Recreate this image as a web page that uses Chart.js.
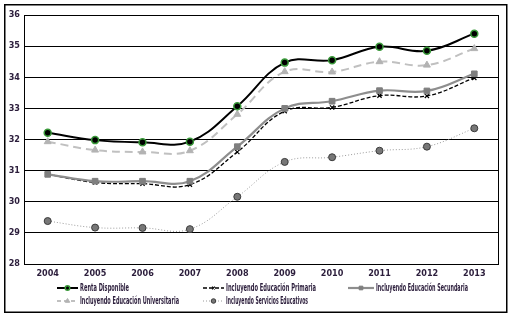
<!DOCTYPE html>
<html><head><meta charset="utf-8">
<script src="https://cdn.jsdelivr.net/npm/chart.js@4/dist/chart.umd.min.js"></script>
<style>html,body{margin:0;padding:0;background:#fff;}canvas{display:block;}</style>
</head><body>
<canvas id="c" width="512" height="318"></canvas>
<script>
const years = ['2004','2005','2006','2007','2008','2009','2010','2011','2012','2013'];
const rentaDisponible = [32.22,31.98,31.91,31.93,33.07,34.47,34.55,34.98,34.85,35.40];
const educPrimaria = [30.88,30.62,30.58,30.55,31.60,32.91,33.03,33.41,33.40,33.98];
const educSecundaria = [30.88,30.66,30.66,30.66,31.77,33.00,33.23,33.57,33.56,34.11];
const educUniversitaria = [31.93,31.66,31.60,31.64,32.81,34.18,34.17,34.50,34.39,34.92];
const serviciosEducativos = [29.38,29.17,29.16,29.12,30.16,31.28,31.43,31.64,31.77,32.36];
const yMin = 28, yMax = 36, yStep = 1;
const seriesNames = ['Renta Disponible','Incluyendo Educación Primaria','Incluyendo Educación Secundaria','Incluyendo Educación Universitaria','Incluyendo Servicios Educativos'];

const FONT = '"Liberation Sans Narrow","DejaVu Sans Condensed","Arial Narrow",sans-serif';
const TXT = '#2b1d3b';

const styles = [
  {borderColor:'#000',borderWidth:2,borderDash:[],pointStyle:'circle',pointRadius:3.5,pointBackgroundColor:'#000',pointBorderColor:'#3a9a3a',pointBorderWidth:1.5,order:0},
  {borderColor:'#000',borderWidth:1.3,borderDash:[4,2],pointStyle:'crossRot',pointRadius:3,pointBackgroundColor:'#000',pointBorderColor:'#000',pointBorderWidth:1.2,order:2},
  {borderColor:'#8e8e8e',borderWidth:2.2,borderDash:[],pointStyle:'rect',pointRadius:4,pointBackgroundColor:'#7f7f7f',pointBorderColor:'#7f7f7f',pointBorderWidth:1,order:1},
  {borderColor:'#c0c0c0',borderWidth:2,borderDash:[8,5],pointStyle:'triangle',pointRadius:4,pointBackgroundColor:'#b3b3b3',pointBorderColor:'#b3b3b3',pointBorderWidth:1,order:3},
  {borderColor:'#9a9a9a',borderWidth:1,borderDash:[1,2],pointStyle:'circle',pointRadius:3.5,pointBackgroundColor:'#777',pointBorderColor:'#3a3a3a',pointBorderWidth:1,order:4}
];
const values = [rentaDisponible,educPrimaria,educSecundaria,educUniversitaria,serviciosEducativos];

const datasets = values.map((v,i)=>Object.assign({label:seriesNames[i],data:v,tension:0.4,fill:false},styles[i]));

const legendItems = [
  {i:0,x:57,y:288,w:49},
  {i:1,x:203,y:288,w:90},
  {i:2,x:348,y:288,w:92},
  {i:3,x:57,y:301,w:99},
  {i:4,x:203,y:301,w:82}
];
const textX = [80,226,376,80,226];

const framePlugin = {
  id:'frame',
  beforeDatasetsDraw(chart){
    const {ctx,chartArea:a} = chart;
    ctx.save();
    ctx.strokeStyle='#000';ctx.lineWidth=1;
    ctx.strokeRect(Math.round(a.left)+0.5,Math.round(a.top)+0.5,Math.round(a.right-a.left),Math.round(a.bottom-a.top));
    ctx.restore();
  },
  afterDraw(chart){
    const ctx = chart.ctx;
    ctx.save();
    ctx.strokeStyle='#000';ctx.lineWidth=1.5;
    ctx.strokeRect(4.75,4.75,502,307.5);
    legendItems.forEach((it,k)=>{
      const s = styles[it.i];
      const x0 = it.x, x1 = textX[k]-2, y = it.y;
      ctx.save();
      ctx.strokeStyle=s.borderColor;ctx.lineWidth=Math.max(s.borderWidth,1);
      ctx.setLineDash(s.borderDash.length? (s.borderDash[0]>4?[4,3]:s.borderDash):[]);
      ctx.beginPath();ctx.moveTo(x0,y);ctx.lineTo(x1,y);ctx.stroke();
      ctx.setLineDash([]);
      ctx.fillStyle=s.pointBackgroundColor;ctx.strokeStyle=s.pointBorderColor;ctx.lineWidth=s.pointBorderWidth;
      Chart.helpers.drawPoint(ctx,{pointStyle:s.pointStyle,radius:s.pointRadius*0.65,borderWidth:s.pointBorderWidth,rotation:0},(x0+x1)/2,y);
      ctx.restore();
      ctx.fillStyle=TXT;
      ctx.font='bold 10px '+FONT;
      ctx.textBaseline='middle';ctx.textAlign='left';
      ctx.fillText(seriesNames[it.i],textX[k],y,it.w);
    });
    ctx.restore();
  }
};

new Chart(document.getElementById('c'),{
  type:'line',
  data:{labels:years,datasets:datasets},
  options:{
    responsive:false,animation:false,devicePixelRatio:1,
    layout:{padding:{left:0,top:15,right:14,bottom:0}},
    plugins:{legend:{display:false},tooltip:{enabled:false}},
    scales:{
      x:{type:'category',offset:true,
        grid:{display:false,drawTicks:false},border:{display:false},
        ticks:{font:{family:FONT,size:9,weight:'bold'},color:TXT,padding:4,maxRotation:0,autoSkip:false},
        afterFit(s){s.height=54;}
      },
      y:{min:yMin,max:yMax,
        grid:{color:'#000',lineWidth:1,drawTicks:false},border:{display:true,color:'#000'},
        ticks:{stepSize:yStep,font:{family:FONT,size:9,weight:'bold'},color:TXT,padding:4},
        afterFit(s){s.width=24;}
      }
    }
  },
  plugins:[framePlugin]
});
</script>
</body></html>
